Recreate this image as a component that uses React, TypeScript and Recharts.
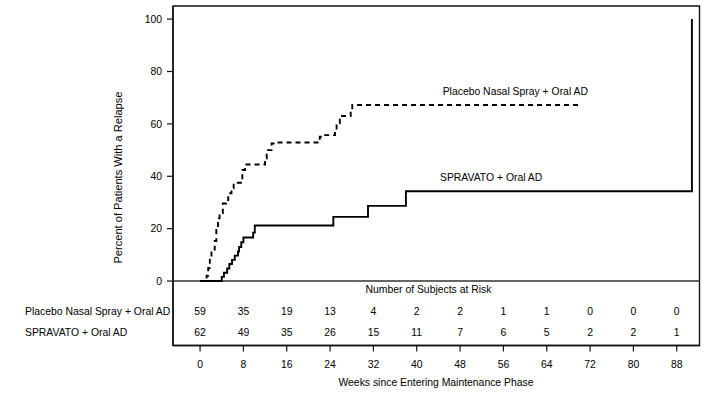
import React from 'react';
import {
  ComposedChart,
  Line,
  Scatter,
  XAxis,
  YAxis,
  ReferenceLine,
  ReferenceArea,
  Customized,
} from 'recharts';

// Kaplan-Meier style step data: [week, percent with relapse]
const placeboWeeks = [0, 1.2, 1.5, 1.8, 2.1, 2.7, 3.0, 3.3, 3.6, 4.2, 4.8, 5.2, 5.8, 6.2, 7.8, 8.3, 12.0, 12.3, 13.2, 14.0, 22.1, 22.5, 24.9, 25.2, 25.8, 27.8, 28.1, 69.8];
const placeboPct = [0, 2, 5, 8.5, 12.0, 15.3, 19.5, 24.0, 26.0, 29.6, 30.9, 33.5, 35.4, 37.5, 42.4, 44.5, 46.8, 50.0, 52.5, 52.9, 55.1, 55.7, 57.6, 60.2, 63.0, 65.3, 67.2, 67.2];

const spravatoWeeks = [0, 4.0, 4.4, 5.0, 5.4, 5.9, 6.4, 7.0, 7.2, 7.6, 8.0, 9.8, 10.1, 24.6, 31.0, 38.0, 90.8];
const spravatoPct = [0, 1.6, 3.2, 4.8, 6.5, 8.1, 9.7, 11.3, 13.0, 14.8, 16.6, 18.5, 21.2, 24.5, 28.7, 34.3, 100];

const riskWeeks = [0, 8, 16, 24, 32, 40, 48, 56, 64, 72, 80, 88];
const placeboAtRisk = [59, 35, 19, 13, 4, 2, 2, 1, 1, 0, 0, 0];
const spravatoAtRisk = [62, 49, 35, 26, 15, 11, 7, 6, 5, 2, 2, 1];

const yTicks = [0, 20, 40, 60, 80, 100];

const placeboLabel = 'Placebo Nasal Spray + Oral AD';
const spravatoLabel = 'SPRAVATO + Oral AD';

const FONT = '"Liberation Sans", Arial, sans-serif';
const FS = 10.4;

const placeboData = placeboWeeks.map((x, i) => ({ x, y: placeboPct[i] }));
const spravatoData = spravatoWeeks.map((x, i) => ({ x, y: spravatoPct[i] }));

const ROW1 = -11.58;
const ROW2 = -19.6;
const placeboRiskData = riskWeeks.map((x, i) => ({ x, y: ROW1, n: placeboAtRisk[i] }));
const spravatoRiskData = riskWeeks.map((x, i) => ({ x, y: ROW2, n: spravatoAtRisk[i] }));

const RiskText = (props: any) => {
  const { cx, cy, payload } = props;
  return (
    <text x={cx} y={cy} dy="0.355em" textAnchor="middle" fontFamily={FONT} fontSize={FS} fill="#000">
      {payload.n}
    </text>
  );
};

const Annotations = () => (
  <g fontFamily={FONT} fontSize={FS} fill="#000">
    <text x={442.7} y={94.8}>{placeboLabel}</text>
    <text x={440} y={181.3}>{spravatoLabel}</text>
    <text x={428.5} y={293} textAnchor="middle">Number of Subjects at Risk</text>
    <text x={25} y={315}>{placeboLabel}</text>
    <text x={25} y={336}>{spravatoLabel}</text>
    <text x={436} y={386} textAnchor="middle">Weeks since Entering Maintenance Phase</text>
    <text x={122} y={177.5} textAnchor="middle" fontSize={11.1} transform="rotate(-90 122 177.5)">
      Percent of Patients With a Relapse
    </text>
  </g>
);

export default function App() {
  return (
    <div style={{ position: 'absolute', left: 0, top: 0, width: 726, height: 401, background: '#fff' }}>
      <ComposedChart
        width={726}
        height={401}
        margin={{ top: 6, right: 26.5, left: 113, bottom: 25.5 }}
      >
        <XAxis
          type="number"
          dataKey="x"
          domain={[-5, 92.2]}
          ticks={riskWeeks}
          allowDataOverflow
          height={30}
          tickSize={6}
          tickMargin={9}
          axisLine={{ stroke: '#111', strokeWidth: 1.4 }}
          tickLine={{ stroke: '#111', strokeWidth: 1.2 }}
          tick={{ fill: '#000', fontSize: FS, fontFamily: FONT }}
          interval={0}
        />
        <YAxis
          type="number"
          dataKey="y"
          domain={[-24.6, 105]}
          ticks={yTicks}
          allowDataOverflow
          width={60}
          tickSize={6}
          tickMargin={5}
          axisLine={{ stroke: '#111', strokeWidth: 1.4 }}
          tickLine={{ stroke: '#111', strokeWidth: 1.2 }}
          tick={{ fill: '#000', fontSize: FS, fontFamily: FONT }}
          interval={0}
        />
        <ReferenceArea
          x1={-5}
          x2={92.2}
          y1={-24.6}
          y2={105}
          fill="none"
          fillOpacity={0}
          stroke="#111"
          strokeWidth={1.4}
          ifOverflow="visible"
        />
        <ReferenceLine y={0} stroke="#333" strokeWidth={1.4} />
        <Line
          data={placeboData}
          dataKey="y"
          type="stepAfter"
          stroke="#000"
          strokeWidth={1.9}
          strokeDasharray="5 4"
          dot={false}
          activeDot={false}
          isAnimationActive={false}
        />
        <Line
          data={spravatoData}
          dataKey="y"
          type="stepAfter"
          stroke="#000"
          strokeWidth={1.9}
          dot={false}
          activeDot={false}
          isAnimationActive={false}
        />
        <Scatter data={placeboRiskData} dataKey="y" shape={RiskText} isAnimationActive={false} />
        <Scatter data={spravatoRiskData} dataKey="y" shape={RiskText} isAnimationActive={false} />
        <Customized component={Annotations} />
      </ComposedChart>
    </div>
  );
}
